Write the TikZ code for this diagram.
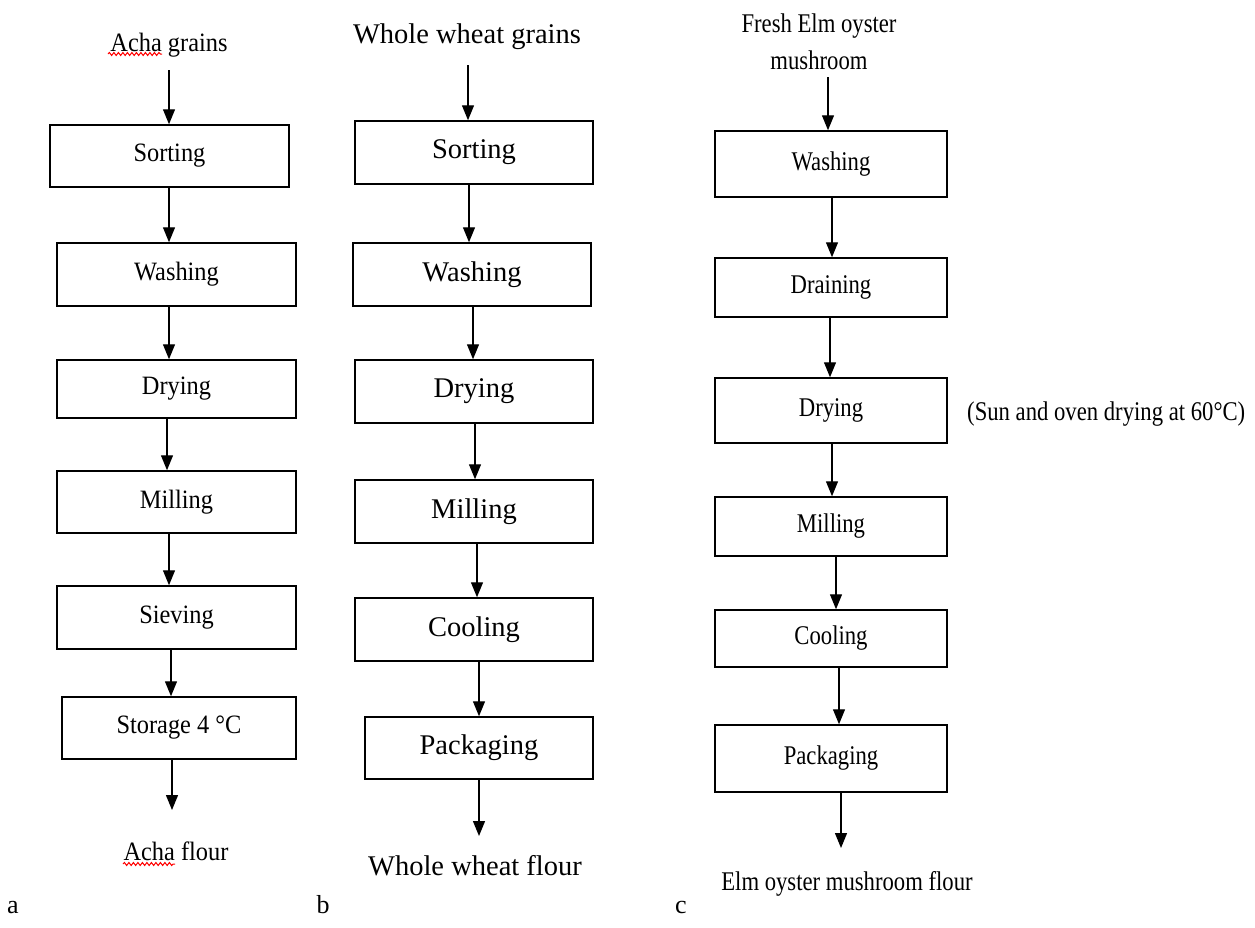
\documentclass[tikz,border=0pt]{standalone}
\usepackage{fontspec}
\setmainfont{Liberation Serif}
\newfontfamily\fonta[FakeStretch=0.92]{Liberation Serif}
\newfontfamily\fontc[FakeStretch=0.84]{Liberation Serif}
\usetikzlibrary{arrows.meta,decorations.pathmorphing}

\tikzset{
  stepbox/.style={draw=black, line width=1.5pt, inner sep=0pt, anchor=center},
  flow/.style={line width=1.3pt, -{Triangle[width=12pt,length=15pt]}},
  txa/.style={font=\fonta\fontsize{26.5}{30}\selectfont, inner sep=0pt},
  txb/.style={font=\fontsize{28.5}{32}\selectfont, inner sep=0pt},
  txc/.style={font=\fontc\fontsize{27}{37}\selectfont, inner sep=0pt, align=center},
  txl/.style={font=\fontsize{26}{30}\selectfont, inner sep=0pt, anchor=base},
  spell/.style={draw=red, line width=1pt, decorate,
    decoration={snake, amplitude=1.5pt, segment length=4.5pt}},
}

\begin{document}
\begin{tikzpicture}[x=1pt,y=-1pt]
\useasboundingbox (0,0) rectangle (1255,927);

% ---------- (a) Acha flour ----------
\node[txa, anchor=base] (a0) at (169,51) {Acha grains};
\node[stepbox, txa, minimum width=239pt, minimum height=62pt] (a1) at (169.5,156) {Sorting};
\node[stepbox, txa, minimum width=239pt, minimum height=63pt] (a2) at (176.5,274.5) {Washing};
\node[stepbox, txa, minimum width=239pt, minimum height=58pt] (a3) at (176.5,389) {Drying};
\node[stepbox, txa, minimum width=239pt, minimum height=62pt] (a4) at (176.5,502) {Milling};
\node[stepbox, txa, minimum width=239pt, minimum height=63pt] (a5) at (176.5,617.5) {Sieving};
\node[stepbox, txa, minimum width=234pt, minimum height=62pt] (a6) at (179,728) {Storage 4 °C};
\node[txa, anchor=base] (a7) at (176,860) {Acha flour};
\coordinate (a0s) at (169,70);
\coordinate (a7e) at (172,810);

\draw[flow] (a0s) -- (a0s |- a1.north);
\draw[flow] ([xshift=-0.5pt]a1.south) -- ([xshift=-0.5pt]a1.south |- a2.north);
\draw[flow] ([xshift=-7.5pt]a2.south) -- ([xshift=-7.5pt]a2.south |- a3.north);
\draw[flow] ([xshift=-9.5pt]a3.south) -- ([xshift=-9.5pt]a3.south |- a4.north);
\draw[flow] ([xshift=-7.5pt]a4.south) -- ([xshift=-7.5pt]a4.south |- a5.north);
\draw[flow] ([xshift=-5.5pt]a5.south) -- ([xshift=-5.5pt]a5.south |- a6.north);
\draw[flow] (a7e |- a6.south) -- (a7e);

% spell-check marks under "Acha"
\draw[spell] (108,54) -- (162,54);
\draw[spell] (123,864) -- (175,864);

% ---------- (b) Whole wheat flour ----------
\node[txb, anchor=base] (b0) at (467,43) {Whole wheat grains};
\node[stepbox, txb, minimum width=238pt, minimum height=63pt] (b1) at (474,152.5) {Sorting};
\node[stepbox, txb, minimum width=238pt, minimum height=63pt] (b2) at (472,274.5) {Washing};
\node[stepbox, txb, minimum width=238pt, minimum height=63pt] (b3) at (474,391.5) {Drying};
\node[stepbox, txb, minimum width=238pt, minimum height=63pt] (b4) at (474,511.5) {Milling};
\node[stepbox, txb, minimum width=238pt, minimum height=63pt] (b5) at (474,629.5) {Cooling};
\node[stepbox, txb, minimum width=228pt, minimum height=62pt] (b6) at (479,748) {Packaging};
\node[txb, anchor=base] (b7) at (475,875) {Whole wheat flour};
\coordinate (b0s) at (468,65);
\coordinate (b7e) at (479,836);

\draw[flow] (b0s) -- (b0s |- b1.north);
\draw[flow] ([xshift=-5pt]b1.south) -- ([xshift=-5pt]b1.south |- b2.north);
\draw[flow] ([xshift=1pt]b2.south) -- ([xshift=1pt]b2.south |- b3.north);
\draw[flow] ([xshift=1pt]b3.south) -- ([xshift=1pt]b3.south |- b4.north);
\draw[flow] ([xshift=3pt]b4.south) -- ([xshift=3pt]b4.south |- b5.north);
\draw[flow] ([xshift=5pt]b5.south) -- ([xshift=5pt]b5.south |- b6.north);
\draw[flow] (b7e |- b6.south) -- (b7e);

% ---------- (c) Elm oyster mushroom flour ----------
% a multi-line node's base anchor sits on its last line
\node[txc, anchor=base] (c0) at (819,69) {Fresh Elm oyster\\mushroom};
\node[stepbox, txc, minimum width=232pt, minimum height=66pt] (c1) at (831,164) {Washing};
\node[stepbox, txc, minimum width=232pt, minimum height=59pt] (c2) at (831,287.5) {Draining};
\node[stepbox, txc, minimum width=232pt, minimum height=65pt] (c3) at (831,410.5) {Drying};
\node[stepbox, txc, minimum width=232pt, minimum height=59pt] (c4) at (831,526.5) {Milling};
\node[stepbox, txc, minimum width=232pt, minimum height=57pt] (c5) at (831,638.5) {Cooling};
\node[stepbox, txc, minimum width=232pt, minimum height=67pt] (c6) at (831,758.5) {Packaging};
\node[txc, anchor=base] (c7) at (847,890) {Elm oyster mushroom flour};
\node[txc, anchor=base west] (c3n) at (967,420) {(Sun and oven drying at 60°C)};
\coordinate (c0s) at (828,77);
\coordinate (c7e) at (841,848);

\draw[flow] (c0s) -- (c0s |- c1.north);
\draw[flow] ([xshift=1pt]c1.south) -- ([xshift=1pt]c1.south |- c2.north);
\draw[flow] ([xshift=-1pt]c2.south) -- ([xshift=-1pt]c2.south |- c3.north);
\draw[flow] ([xshift=1pt]c3.south) -- ([xshift=1pt]c3.south |- c4.north);
\draw[flow] ([xshift=5pt]c4.south) -- ([xshift=5pt]c4.south |- c5.north);
\draw[flow] ([xshift=8pt]c5.south) -- ([xshift=8pt]c5.south |- c6.north);
\draw[flow] (c7e |- c6.south) -- (c7e);

% panel letters
\node[txl] (la) at (13,913) {a};
\node[txl] (lb) at (323,913) {b};
\node[txl] (lc) at (681,913) {c};
\end{tikzpicture}
\end{document}
